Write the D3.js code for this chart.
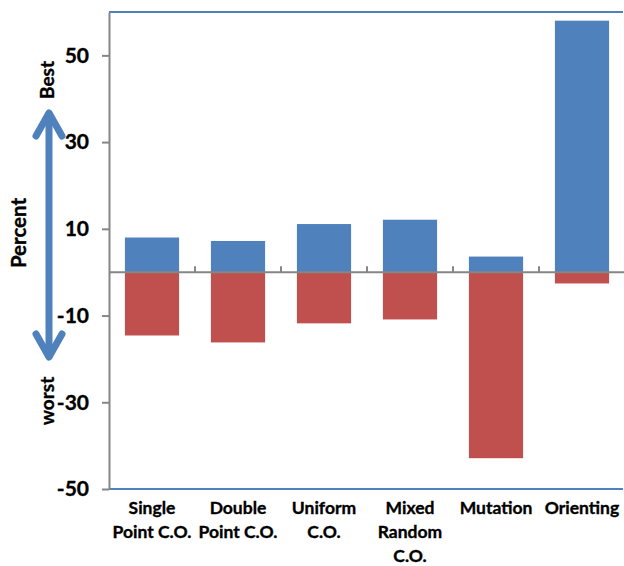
<!DOCTYPE html>
<html>
<head>
<meta charset="utf-8">
<script src="https://cdn.jsdelivr.net/npm/d3@7"></script>
<style>
  body { margin: 0; background: #fff; }
  svg text { font-family: Lato, "Open Sans", sans-serif; font-weight: bold; fill: #000; stroke: #000; stroke-width: 0.35px; }
</style>
</head>
<body>
<div id="chart"></div>
<script>
// operator categories and the two series (percent best / percent worst)
const categories = [
  ["Single", "Point C.O."],
  ["Double", "Point C.O."],
  ["Uniform", "C.O."],
  ["Mixed", "Random", "C.O."],
  ["Mutation"],
  ["Orienting"]
];
const bestVals  = [8, 7.2, 11.1, 12.1, 3.6, 58];
const worstVals = [-14.6, -16.2, -11.8, -10.9, -42.9, -2.6];
const yTicks = [50, 30, 10, -10, -30, -50];

const W = 624, H = 566;
const margin = { top: 12, right: 0, bottom: 77, left: 109 };

const svg = d3.select("#chart").append("svg")
  .attr("width", W).attr("height", H);

const keys = categories.map((c, i) => i);
const x = d3.scaleBand()
  .domain(keys)
  .range([margin.left, W + 1])
  .paddingInner(0.37).paddingOuter(0.185);

const y = d3.scaleLinear()
  .domain([-50, 60])
  .range([H - margin.bottom, margin.top]);

const blue = "#4F81BD", red = "#C0504D", grey = "#868686";

// bars – best (positive) and worst (negative) share the same slot
svg.append("g").selectAll("rect")
  .data(bestVals)
  .join("rect")
    .attr("x", (d, i) => x(i))
    .attr("width", x.bandwidth())
    .attr("y", d => y(d))
    .attr("height", d => y(0) - y(d))
    .attr("fill", blue);

svg.append("g").selectAll("rect")
  .data(worstVals)
  .join("rect")
    .attr("x", (d, i) => x(i))
    .attr("width", x.bandwidth())
    .attr("y", y(0))
    .attr("height", d => y(d) - y(0))
    .attr("fill", red);

// plot frame top/bottom (blue lines)
svg.append("line")
  .attr("x1", margin.left).attr("x2", W - 1)
  .attr("y1", y(60)).attr("y2", y(60))
  .attr("stroke", blue).attr("stroke-width", 2);
svg.append("line")
  .attr("x1", margin.left).attr("x2", W - 1)
  .attr("y1", y(-50)).attr("y2", y(-50))
  .attr("stroke", blue).attr("stroke-width", 2);

// y axis
svg.append("g")
  .attr("transform", `translate(${margin.left},0)`)
  .call(d3.axisLeft(y).tickValues(yTicks).tickSize(7).tickPadding(13).tickSizeOuter(0)
    .tickFormat(d => String(d)))
  .call(g => g.selectAll("line, path").attr("stroke", grey).attr("stroke-width", 2))
  .call(g => g.selectAll("text").attr("font-size", 21).attr("fill", "#000"));

// zero baseline with category separators
const step = x.step();
const bound = d3.range(1, categories.length).map(i => margin.left + i * step);
svg.append("line")
  .attr("x1", margin.left).attr("x2", W)
  .attr("y1", y(0)).attr("y2", y(0))
  .attr("stroke", grey).attr("stroke-width", 2);
svg.append("g").selectAll("line")
  .data(bound)
  .join("line")
    .attr("x1", d => d).attr("x2", d => d)
    .attr("y1", y(0)).attr("y2", y(0) - 6)
    .attr("stroke", grey).attr("stroke-width", 2);

// category labels
const lab = svg.append("g").selectAll("text")
  .data(categories)
  .join("text")
    .attr("text-anchor", "middle")
    .attr("font-size", 17.5)
    .attr("x", (d, i) => x(i) + x.bandwidth() / 2);
lab.selectAll("tspan")
  .data(d => d)
  .join("tspan")
    .attr("x", function() { return this.parentNode.getAttribute("x"); })
    .attr("y", (d, j) => 514 + j * 24)
    .text(d => d);

// y title + best/worst arrow
svg.append("text")
  .attr("transform", "translate(26,233) rotate(-90)")
  .attr("text-anchor", "middle")
  .attr("font-size", 20.5)
  .text("Percent");
svg.append("text")
  .attr("transform", "translate(54,80) rotate(-90)")
  .attr("text-anchor", "middle")
  .attr("font-size", 19)
  .text("Best");
svg.append("text")
  .attr("transform", "translate(54,401) rotate(-90)")
  .attr("text-anchor", "middle")
  .attr("font-size", 19)
  .text("worst");

const ax = 49, aTop = 111, aBot = 359;
const arrow = svg.append("g")
  .attr("stroke", blue).attr("fill", "none")
  .attr("stroke-width", 7).attr("stroke-linecap", "round").attr("stroke-linejoin", "round");
arrow.append("line").attr("x1", ax).attr("x2", ax).attr("y1", aTop + 3).attr("y2", aBot - 3);
arrow.append("polyline").attr("points", `${ax - 13},${aTop + 25} ${ax},${aTop + 2} ${ax + 13},${aTop + 25}`);
arrow.append("polyline").attr("points", `${ax - 13},${aBot - 25} ${ax},${aBot - 2} ${ax + 13},${aBot - 25}`);
</script>
</body>
</html>
